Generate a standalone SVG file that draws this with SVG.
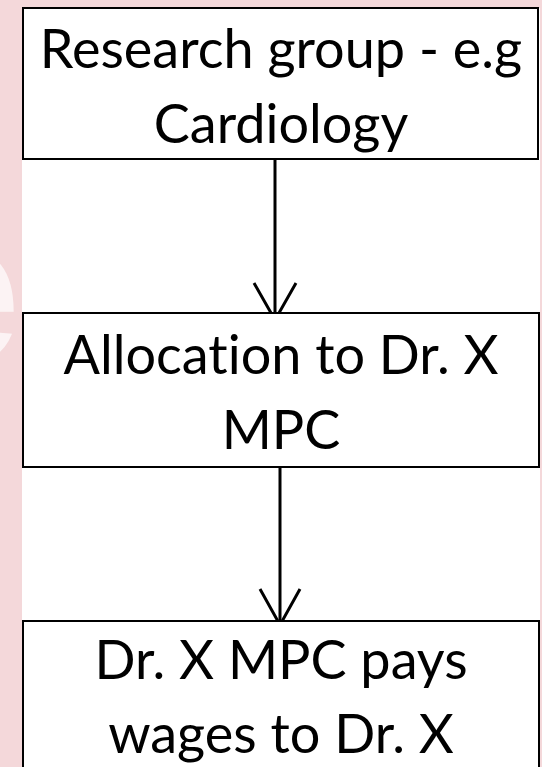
<svg xmlns="http://www.w3.org/2000/svg" width="542" height="767" viewBox="0 0 542 767">
  <style>
    .box { fill: #ffffff; stroke: #000000; stroke-width: 2; }
    .label { font-family: Lato, "Liberation Sans", Arial, sans-serif; font-size: 54px; fill: #000000; text-anchor: middle; font-variant-ligatures: none; font-feature-settings: "liga" 0; }
    .wire { fill: none; stroke: #000000; stroke-width: 3; }
    .head { fill: none; stroke: #000000; stroke-width: 3; stroke-linejoin: miter; }
  </style>
  <defs>
    <clipPath id="leftStrip">
      <rect x="0" y="0" width="22" height="767"/>
    </clipPath>
  </defs>

  <!-- page background: pink margin with a white panel -->
  <rect x="0" y="0" width="542" height="767" fill="#f4d8da"/>
  <rect x="22" y="8" width="518" height="759" fill="#ffffff"/>
  <text x="-96" y="362" clip-path="url(#leftStrip)" font-family="'Liberation Sans', Arial, sans-serif" font-weight="bold" font-size="210" fill="#ffffff" fill-opacity="0.7">e</text>

  <!-- connectors -->
  <g id="connectors">
    <line class="wire" x1="275" y1="159" x2="275" y2="319"/>
    <polyline class="head" points="254,283 275,320 296,283"/>
    <line class="wire" x1="280" y1="467" x2="280" y2="624"/>
    <polyline class="head" points="260,589 280,625 300,589"/>
  </g>

  <g id="research-group">
    <rect class="box" x="23" y="8" width="515" height="151"/>
    <text class="label" x="281" y="68">Research group - e.g</text>
    <text class="label" x="281" y="143">Cardiology</text>
  </g>

  <g id="allocation">
    <rect class="box" x="23" y="313" width="516" height="154"/>
    <text class="label" x="281" y="374">Allocation to Dr. X</text>
    <text class="label" x="281" y="449">MPC</text>
  </g>

  <g id="wages">
    <rect class="box" x="23" y="621" width="516" height="160"/>
    <text class="label" x="281" y="679">Dr. X MPC pays</text>
    <text class="label" x="281" y="753">wages to Dr. X</text>
  </g>
</svg>
